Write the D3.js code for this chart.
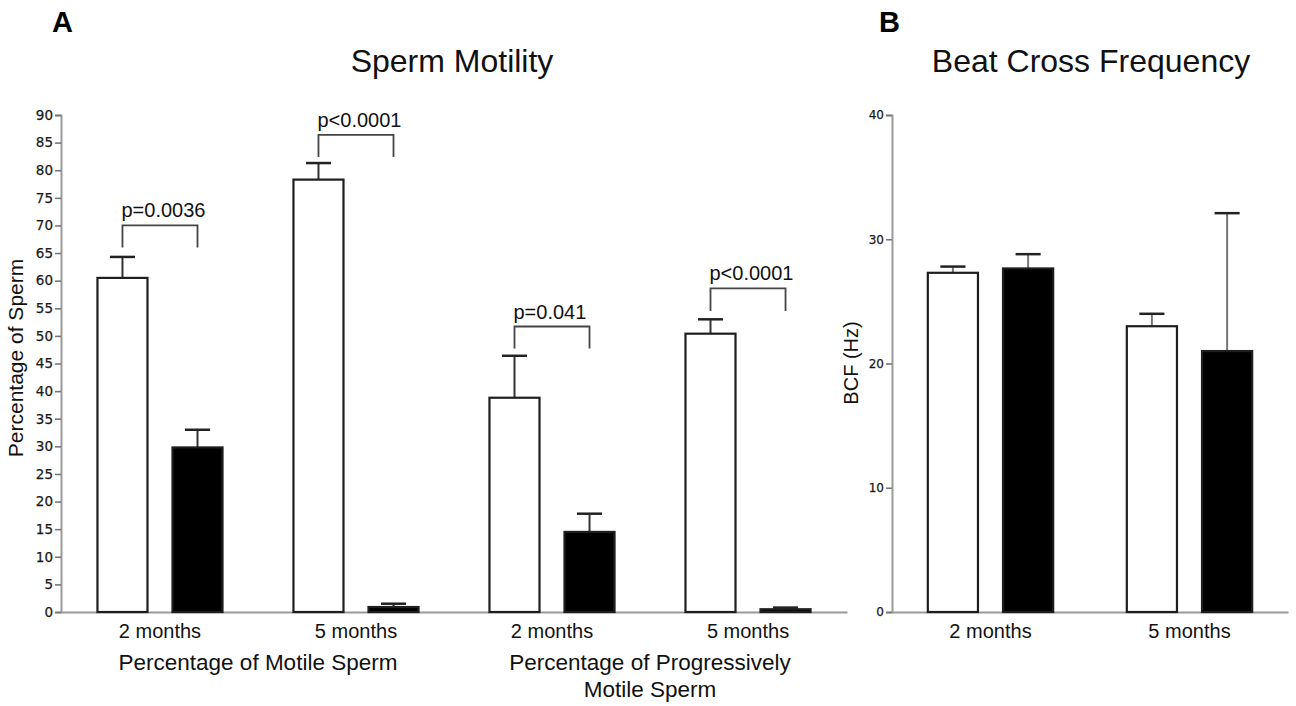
<!DOCTYPE html>
<html>
<head>
<meta charset="utf-8">
<script src="https://cdn.jsdelivr.net/npm/d3@7"></script>
<style>
  html, body { margin: 0; padding: 0; background: #fff; }
  svg { display: block; }
</style>
</head>
<body>
<svg id="chart" width="1296" height="706"></svg>
<script>
// ---------- DATA ----------
// Panel A: Sperm Motility
const groupsA = ["motile2", "motile5", "prog2", "prog5"];
const monthLabelsA = ["2 months", "5 months", "2 months", "5 months"];
const seriesNames = ["control", "treated"];
const controlA = [60.5, 78.3, 38.8, 50.4];
const controlErrA = [3.8, 3.0, 7.6, 2.6];
const treatedA = [29.8, 0.9, 14.5, 0.5];
const treatedErrA = [3.2, 0.6, 3.3, 0.3];
const bracketTopA = [70.0, 86.4, 51.7, 58.6];
const bracketLegA = [66.0, 82.4, 47.7, 54.5];
const pLabelsA = ["p=0.0036", "p<0.0001", "p=0.041", "p<0.0001"];
const yTicksA = [0,5,10,15,20,25,30,35,40,45,50,55,60,65,70,75,80,85,90];
const groupTitlesA = [["Percentage of Motile Sperm"], ["Percentage of Progressively", "Motile Sperm"]];

// Panel B: Beat Cross Frequency
const groupsB = ["2 months", "5 months"];
const controlB = [27.3, 23.0];
const controlErrB = [0.5, 1.0];
const treatedB = [27.65, 21.0];
const treatedErrB = [1.15, 11.1];
const yTicksB = [0, 10, 20, 30, 40];

// ---------- DRAW ----------
const svg = d3.select("#chart");
const BAR_STROKE = "#1e1e1e";
const AXIS_COLOR = "#9a9a9a";
const TEXT_FONT = "'Liberation Sans', Arial, sans-serif";
const TICK_FONT = "'DejaVu Sans', Verdana, sans-serif";

function drawPanel(opts) {
  const g = svg.append("g");
  const x = d3.scaleBand().domain(opts.groups).range(opts.xRange)
    .paddingInner(opts.padInner).paddingOuter(opts.padOuter);
  const xi = d3.scaleBand().domain(seriesNames).range([0, x.bandwidth()])
    .paddingInner(1/3).paddingOuter(0);
  const y = d3.scaleLinear().domain(opts.yDomain).range(opts.yRange);

  // y axis
  const yAxis = d3.axisLeft(y).tickValues(opts.yTicks).tickSize(6).tickPadding(2);
  const ya = g.append("g").attr("transform", `translate(${opts.xRange[0]},0)`).call(yAxis);
  ya.select(".domain").attr("stroke", AXIS_COLOR).attr("stroke-width", 2);
  ya.selectAll(".tick line").attr("stroke", "#777").attr("stroke-width", 1.6);
  ya.selectAll(".tick text").attr("font-family", TICK_FONT).attr("font-size", opts.tickFont)
    .attr("fill", "#1a1a1a").attr("stroke", "#1a1a1a").attr("stroke-width", 0.25);

  // x axis
  const xAxis = d3.axisBottom(x).tickSize(0).tickFormat(() => "");
  const xa = g.append("g").attr("transform", `translate(0,${opts.yRange[0]})`).call(xAxis);
  xa.select(".domain").attr("stroke", AXIS_COLOR).attr("stroke-width", 2);

  const rows = opts.groups.map((gk, i) => ({
    g: gk, i,
    vals: [
      {s: "control", v: opts.control[i], e: opts.controlErr[i]},
      {s: "treated", v: opts.treated[i], e: opts.treatedErr[i]}
    ]
  }));

  const gg = g.selectAll(".grp").data(rows).enter().append("g")
    .attr("transform", d => `translate(${x(d.g)},0)`);

  // error bars (upper only), drawn before bars
  const eb = gg.selectAll(".err").data(d => d.vals).enter().append("g");
  eb.append("line")
    .attr("x1", d => xi(d.s) + xi.bandwidth()/2)
    .attr("x2", d => xi(d.s) + xi.bandwidth()/2)
    .attr("y1", d => y(d.v))
    .attr("y2", d => y(d.v + d.e))
    .attr("stroke", opts.stemColor).attr("stroke-width", 2);
  eb.append("line")
    .attr("x1", d => xi(d.s) + xi.bandwidth()/4)
    .attr("x2", d => xi(d.s) + xi.bandwidth()*3/4)
    .attr("y1", d => y(d.v + d.e))
    .attr("y2", d => y(d.v + d.e))
    .attr("stroke", "#222").attr("stroke-width", 2.5);

  gg.selectAll(".bar").data(d => d.vals).enter().append("rect")
    .attr("x", d => xi(d.s))
    .attr("y", d => y(d.v))
    .attr("width", xi.bandwidth())
    .attr("height", d => y(0) - y(d.v))
    .attr("fill", d => d.s === "control" ? "#fff" : "#000")
    .attr("stroke", BAR_STROKE).attr("stroke-width", 2.2);

  // month labels
  g.selectAll(".mlab").data(opts.groups).enter().append("text")
    .attr("x", d => x(d) + x.bandwidth()/2)
    .attr("y", opts.yRange[0] + 26)
    .attr("text-anchor", "middle")
    .attr("font-family", TEXT_FONT).attr("font-size", 20).attr("fill", "#111")
    .text((d, i) => opts.monthLabels[i]);

  return {g, x, xi, y};
}

// Panel A
const A = drawPanel({
  groups: groupsA, monthLabels: monthLabelsA,
  control: controlA, controlErr: controlErrA, treated: treatedA, treatedErr: treatedErrA,
  xRange: [61, 847], padInner: 0.362, padOuter: 0.186,
  yDomain: [0, 90], yRange: [612, 115], yTicks: yTicksA, tickFont: 13.5, stemColor: "#333"
});

// significance brackets
const br = A.g.selectAll(".br").data(groupsA).enter().append("g");
br.append("path")
  .attr("d", (d, i) => {
    const x1 = A.x(d) + A.xi("control") + A.xi.bandwidth()/2;
    const x2 = A.x(d) + A.xi("treated") + A.xi.bandwidth()/2;
    const yt = A.y(bracketTopA[i]), yl = A.y(bracketLegA[i]);
    return `M${x1},${yl}V${yt}H${x2}V${yl}`;
  })
  .attr("fill", "none").attr("stroke", "#444").attr("stroke-width", 1.8);
br.append("text")
  .attr("x", (d) => A.x(d) + A.xi("control") + A.xi.bandwidth()/2 - 1)
  .attr("y", (d, i) => A.y(bracketTopA[i]) - 8)
  .attr("font-family", TEXT_FONT).attr("font-size", 20).attr("fill", "#111")
  .text((d, i) => pLabelsA[i]);

// group titles
[[groupsA[0], groupsA[1]], [groupsA[2], groupsA[3]]].forEach((pair, k) => {
  const cx = (A.x(pair[0]) + A.x(pair[1]) + A.x.bandwidth()) / 2;
  groupTitlesA[k].forEach((line, j) => {
    A.g.append("text").attr("x", cx).attr("y", 670 + j * 27)
      .attr("text-anchor", "middle")
      .attr("font-family", TEXT_FONT).attr("font-size", 22.5).attr("fill", "#111")
      .text(line);
  });
});

// y label A
A.g.append("text")
  .attr("transform", "translate(23,358) rotate(-90)")
  .attr("text-anchor", "middle")
  .attr("font-family", TEXT_FONT).attr("font-size", 21).attr("fill", "#111")
  .text("Percentage of Sperm");

// title A
svg.append("text").attr("x", 452).attr("y", 72).attr("text-anchor", "middle")
  .attr("font-family", TEXT_FONT).attr("font-size", 32).attr("fill", "#111")
  .text("Sperm Motility");
svg.append("text").attr("x", 52).attr("y", 32)
  .attr("font-family", TEXT_FONT).attr("font-size", 29).attr("font-weight", "bold").attr("fill", "#000")
  .text("A");

// Panel B
const B = drawPanel({
  groups: groupsB, monthLabels: groupsB,
  control: controlB, controlErr: controlErrB, treated: treatedB, treatedErr: treatedErrB,
  xRange: [892, 1288], padInner: 0.37, padOuter: 0.18,
  yDomain: [0, 40], yRange: [612, 115], yTicks: yTicksB, tickFont: 12, stemColor: "#777"
});
B.g.append("text")
  .attr("transform", "translate(858,363) rotate(-90)")
  .attr("text-anchor", "middle")
  .attr("font-family", TEXT_FONT).attr("font-size", 20).attr("fill", "#111")
  .text("BCF (Hz)");
svg.append("text").attr("x", 1091).attr("y", 72).attr("text-anchor", "middle")
  .attr("font-family", TEXT_FONT).attr("font-size", 32).attr("fill", "#111")
  .text("Beat Cross Frequency");
svg.append("text").attr("x", 879).attr("y", 32)
  .attr("font-family", TEXT_FONT).attr("font-size", 29).attr("font-weight", "bold").attr("fill", "#000")
  .text("B");
</script>
</body>
</html>
